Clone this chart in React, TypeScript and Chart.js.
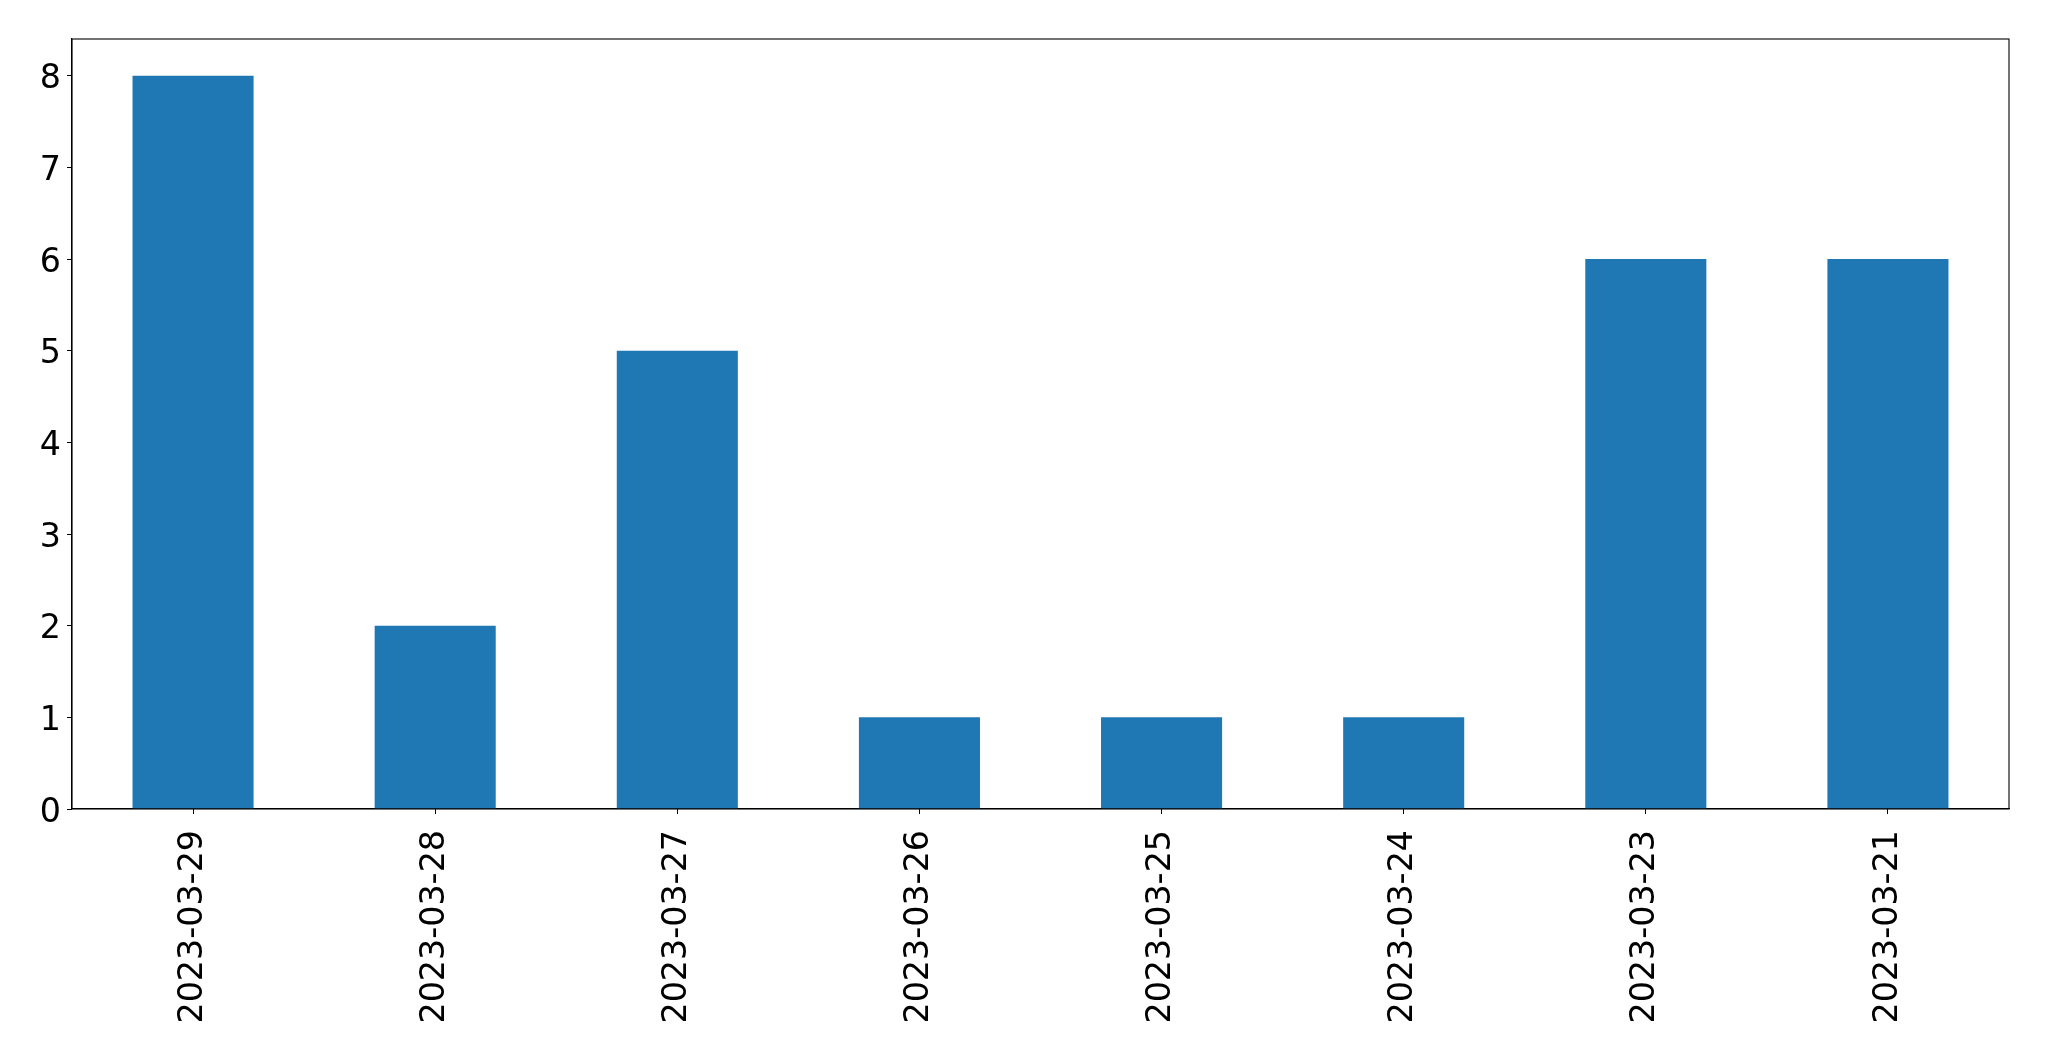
import React, { useEffect, useRef } from "react";
import { Chart, registerables } from "chart.js";

Chart.register(...registerables);

const categories = [
  "2023-03-29",
  "2023-03-28",
  "2023-03-27",
  "2023-03-26",
  "2023-03-25",
  "2023-03-24",
  "2023-03-23",
  "2023-03-21",
];
const counts = [8, 2, 5, 1, 1, 1, 6, 6];
const yTicks = [0, 1, 2, 3, 4, 5, 6, 7, 8];

const frame = {
  id: "frame",
  afterDraw(chart: any) {
    const { ctx, chartArea } = chart;
    ctx.save();
    ctx.strokeStyle = "#000";
    ctx.lineWidth = 1.1;
    ctx.strokeRect(chartArea.left, chartArea.top, chartArea.right - chartArea.left, chartArea.bottom - chartArea.top);
    ctx.restore();
  },
};

export default function App() {
  const ref = useRef<HTMLCanvasElement | null>(null);
  useEffect(() => {
    document.body.style.margin = "0";
    const font = { family: "'DejaVu Sans'", size: 33.3 };
    const chart = new Chart(ref.current!, {
      type: "bar",
      data: {
        labels: categories,
        datasets: [
          {
            data: counts,
            backgroundColor: "#1f77b4",
            borderWidth: 0,
            categoryPercentage: 1,
            barPercentage: 0.5,
          },
        ],
      },
      options: {
        responsive: false,
        animation: false,
        devicePixelRatio: 1,
        layout: { padding: { top: 39, right: 40, left: 0, bottom: 0 } },
        plugins: { legend: { display: false }, tooltip: { enabled: false } },
        scales: {
          x: {
            offset: true,
            grid: { display: true, drawOnChartArea: false, drawTicks: true, tickLength: 5, color: "#000", offset: false },
            border: { display: true, color: "#000", width: 1.1 },
            ticks: {
              autoSkip: false,
              maxRotation: 90,
              minRotation: 90,
              color: "#000",
              font,
              padding: 16,
            },
            afterFit(scale: any) {
              scale.height = 252;
            },
          },
          y: {
            min: 0,
            max: 8.4,
            grid: { display: true, drawOnChartArea: false, drawTicks: true, tickLength: 5, color: "#000" },
            border: { display: true, color: "#000", width: 1.1 },
            ticks: {
              stepSize: 1,
              includeBounds: false,
              color: "#000",
              font,
              padding: 6,
              labelOffset: 4,
            },
            afterBuildTicks(scale: any) {
              scale.ticks = yTicks.map((v) => ({ value: v }));
            },
            afterFit(scale: any) {
              scale.width = 72;
            },
          },
        },
      },
      plugins: [frame],
    });
    return () => chart.destroy();
  }, []);
  return <canvas ref={ref} width={2049} height={1061} style={{ display: "block" }} />;
}
